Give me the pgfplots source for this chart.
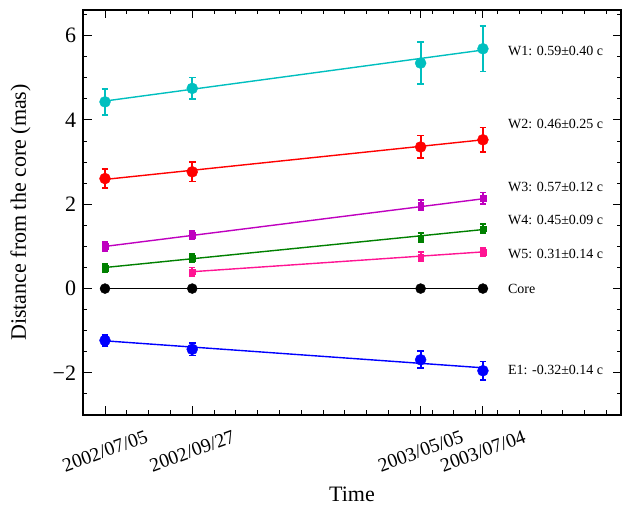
\documentclass[border=0pt]{standalone}
\usepackage{pgfplots}
\pgfplotsset{compat=1.18}
\usepackage{pgfplotstable}
\usepackage{fontspec}
\setmainfont{Liberation Serif}
\definecolor{mc}{RGB}{0,191,191}
\definecolor{mm}{RGB}{191,0,191}
\definecolor{mg}{RGB}{0,128,0}
\definecolor{mp}{RGB}{255,20,147}
\definecolor{mb}{RGB}{0,0,255}
\definecolor{mr}{RGB}{255,0,0}

\pgfplotstableread{
x y e
0 4.43 0.31
84 4.75 0.26
304 5.35 0.50
364 5.69 0.54
}\Wone
\pgfplotstableread{
x y e
0 2.61 0.23
84 2.77 0.23
304 3.36 0.27
364 3.53 0.29
}\Wtwo
\pgfplotstableread{
x y e
0 1.00 0.10
84 1.27 0.10
304 1.98 0.12
364 2.14 0.14
}\Wthree
\pgfplotstableread{
x y e
0 0.48 0.10
84 0.72 0.10
304 1.21 0.10
364 1.42 0.11
}\Wfour
\pgfplotstableread{
x y e
84 0.40 0.10
304 0.76 0.10
364 0.87 0.10
}\Wfive
\pgfplotstableread{
x y e
0 0 0
84 0 0
304 0 0
364 0 0
}\Core
\pgfplotstableread{
x y e
0 -1.23 0.13
84 -1.44 0.15
304 -1.69 0.20
364 -1.95 0.22
}\Eone

\begin{document}
\begin{tikzpicture}
\begin{axis}[name=ax, width=538pt, height=405pt, scale only axis,
 xmin=-21.2, xmax=497, ymin=-3, ymax=6.61,
 xtick={0,84,304,364},
 xticklabels={2002/07/05,2002/09/27,2003/05/05,2003/07/04},
 minor xtick={0,21,...,483},
 ytick={-2,0,2,4,6}, yticklabels={−2,0,2,4,6},
 minor ytick={-3,-2.5,...,6.5},
 tick align=inside, tick pos=both,
 major tick length=8.5pt, minor tick length=4.5pt,
 every tick/.style={black, line width=1pt},
 axis line style={line width=1.2pt},
 yticklabel style={font=\fontsize{22}{26}\selectfont, xshift=-3.4pt},
 xticklabel style={font=\fontsize{19.5}{22}\selectfont, yshift=-36pt, rotate=20, anchor=center},
 xlabel={Time}, ylabel={Distance from the core (mas)},
 every axis x label/.style={at={(axis description cs:0.5,0)}, anchor=base, yshift=-87pt, font=\fontsize{22}{26}\selectfont},
 every axis y label/.style={at={(axis description cs:-0.1162,0.5)}, anchor=center, rotate=90, font=\fontsize{22}{26}\selectfont},
 clip=false,
 big/.style={only marks, mark=*, mark size=5.5pt,
   error bars/.cd, y dir=both, y explicit,
   error bar style={line width=1.8pt},
   error mark options={rotate=90, mark size=3.3pt, line width=1.8pt}},
 small/.style={only marks, mark=square*, mark size=2.8pt,
   error bars/.cd, y dir=both, y explicit,
   error bar style={line width=1.8pt},
   error mark options={rotate=90, mark size=2.9pt, line width=1.8pt}},
]
% fitted lines
\addplot[mc, line width=1.4pt] coordinates {(0,4.45) (364,5.66)};
\addplot[mr, line width=1.4pt] coordinates {(0,2.59) (364,3.53)};
\addplot[mm, line width=1.4pt] coordinates {(0,1.00) (364,2.13)};
\addplot[mg, line width=1.4pt] coordinates {(0,0.50) (364,1.40)};
\addplot[mp, line width=1.4pt] coordinates {(84,0.40) (364,0.87)};
\addplot[black, line width=1.4pt] coordinates {(0,0) (364,0)};
\addplot[mb, line width=1.4pt] coordinates {(0,-1.24) (364,-1.88)};
% data
\addplot[mc, big] table[x=x, y=y, y error=e] {\Wone};
\addplot[mr, big] table[x=x, y=y, y error=e] {\Wtwo};
\addplot[mm, small] table[x=x, y=y, y error=e] {\Wthree};
\addplot[mg, small] table[x=x, y=y, y error=e] {\Wfour};
\addplot[mp, small] table[x=x, y=y, y error=e] {\Wfive};
\addplot[black, only marks, mark=*, mark size=5pt] table[x=x, y=y] {\Core};
\addplot[mb, big] table[x=x, y=y, y error=e] {\Eone};
% annotations
\begin{scope}[every node/.style={anchor=west, inner sep=0pt, font=\fontsize{14}{17}\selectfont}]
\node at (axis cs:388,5.63) {W1: 0.59±0.40 c};
\node at (axis cs:388,3.91) {W2: 0.46±0.25 c};
\node at (axis cs:388,2.40) {W3: 0.57±0.12 c};
\node at (axis cs:388,1.62) {W4: 0.45±0.09 c};
\node at (axis cs:388,0.81) {W5: 0.31±0.14 c};
\node at (axis cs:388,0) {Core};
\node at (axis cs:388,-1.92) {E1: -0.32±0.14 c};
\end{scope}
\end{axis}
\pgfresetboundingbox
\path ([shift={(-83pt,-103pt)}]ax.south west) rectangle ([shift={(11pt,10pt)}]ax.north east);
\end{tikzpicture}
\end{document}
